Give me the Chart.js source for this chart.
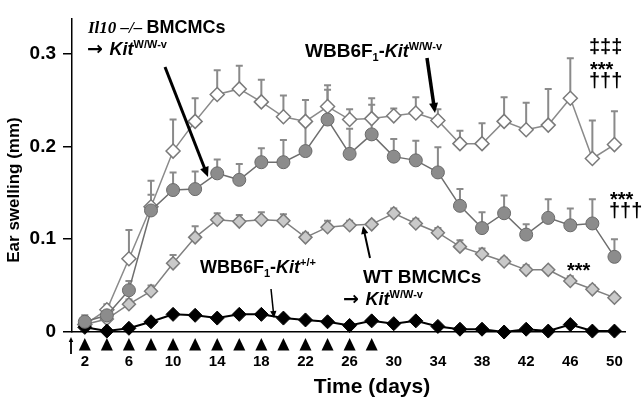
<!DOCTYPE html>
<html>
<head>
<meta charset="utf-8">
<script src="https://cdn.jsdelivr.net/npm/chart.js@4.4.1/dist/chart.umd.min.js"></script>
<style>
  html, body { margin: 0; padding: 0; background: #fff; }
  canvas { display: block; }
</style>
</head>
<body>
<canvas id="c" width="644" height="402"></canvas>
<script>
// jours de mesure (tous les 2 jours)
const days = [2,4,6,8,10,12,14,16,18,20,22,24,26,28,30,32,34,36,38,40,42,44,46,48,50];

// WBB6F1-Kit W/W-v (losanges blancs)
const wvMice = [0.008,0.024,0.079,0.135,0.195,0.227,0.256,0.262,0.248,0.232,0.227,0.243,0.229,0.230,0.233,0.236,0.228,0.203,0.203,0.227,0.218,0.223,0.252,0.187,0.202];
const wvMiceTop = [0.012,0.030,0.110,0.163,0.229,0.252,0.282,0.287,0.272,0.255,0.250,0.266,0.240,0.252,0.241,0.253,0.240,0.217,0.225,0.253,0.247,0.262,0.295,0.228,0.238];

// Il10 -/- BMCMCs -> Kit W/W-v (ronds gris)
const il10Mice = [0.011,0.018,0.045,0.131,0.153,0.154,0.171,0.164,0.183,0.183,0.195,0.229,0.192,0.213,0.189,0.185,0.172,0.136,0.112,0.128,0.105,0.123,0.115,0.117,0.081];
const il10MiceTop = [0.018,0.025,0.055,0.148,0.172,0.173,0.186,0.181,0.198,0.207,0.225,0.261,0.219,0.245,0.208,0.206,0.199,0.154,0.129,0.147,0.116,0.143,0.133,0.143,0.100];

// WT BMCMCs -> Kit W/W-v (losanges gris clair)
const wtMice = [0.008,0.014,0.030,0.044,0.074,0.102,0.121,0.119,0.121,0.120,0.102,0.113,0.115,0.116,0.128,0.117,0.107,0.092,0.084,0.076,0.067,0.067,0.055,0.046,0.037];
const wtMiceTop = [0.011,0.018,0.035,0.050,0.083,0.114,0.128,0.126,0.129,0.127,0.107,0.120,0.120,0.120,0.133,0.122,0.112,0.099,0.090,0.080,0.072,0.070,0.060,0.050,0.041];

// WBB6F1-Kit +/+ (losanges noirs)
const wildMice = [0.005,0.001,0.004,0.011,0.019,0.018,0.015,0.019,0.019,0.015,0.013,0.011,0.007,0.012,0.009,0.012,0.006,0.003,0.003,0.000,0.003,0.001,0.008,0.001,0.001];

// jours des applications (triangles sous l'axe)
const treatDays = [2,4,6,8,10,12,14,16,18,20,22,24,26,28];

const xTicks = [2,6,10,14,18,22,26,30,34,38,42,46,50];
const yTicks = [0,0.1,0.2,0.3];
const yTickLabels = ['0','0.1','0.2','0.3'];

const sans = "Arial, 'Liberation Sans', sans-serif";
const serif = "'Times New Roman', 'Liberation Serif', serif";
const arrowFont = "bold 19px 'DejaVu Sans', sans-serif";

function pts(vals) {
  return vals.map((v, i) => ({x: days[i], y: v}));
}

// barres d'erreur (seulement vers le haut)
const errorBars = {
  id: 'errorBars',
  beforeDatasetsDraw(chart) {
    const {ctx, scales: {x, y}} = chart;
    ctx.save();
    ctx.strokeStyle = '#8a8a8a';
    ctx.lineWidth = 2;
    chart.data.datasets.forEach(ds => {
      if (!ds.errTop) return;
      ds.errTop.forEach((top, i) => {
        const px = x.getPixelForValue(days[i]);
        const y0 = y.getPixelForValue(ds.data[i].y);
        const y1 = y.getPixelForValue(top);
        ctx.beginPath();
        ctx.moveTo(px, y0);
        ctx.lineTo(px, y1);
        ctx.moveTo(px - 3.5, y1);
        ctx.lineTo(px + 3.5, y1);
        ctx.stroke();
      });
    });
    ctx.restore();
  }
};

function arrow(ctx, x0, y0, x1, y1, w, head) {
  const a = Math.atan2(y1 - y0, x1 - x0);
  const c = Math.cos(a), s = Math.sin(a);
  ctx.lineWidth = w;
  ctx.beginPath();
  ctx.moveTo(x0, y0);
  ctx.lineTo(x1 - c * head * 0.8, y1 - s * head * 0.8);
  ctx.stroke();
  ctx.beginPath();
  ctx.moveTo(x1, y1);
  ctx.lineTo(x1 - head * c + head * 0.45 * s, y1 - head * s - head * 0.45 * c);
  ctx.lineTo(x1 - head * c - head * 0.45 * s, y1 - head * s + head * 0.45 * c);
  ctx.closePath();
  ctx.fill();
}

// texte avec morceaux (italique, exposant, indice)
function rich(ctx, x, y, parts) {
  let cx = x;
  parts.forEach(([t, f, dy]) => {
    ctx.font = f;
    ctx.fillText(t, cx, y + (dy || 0));
    cx += ctx.measureText(t).width;
  });
}

const notes = {
  id: 'notes',
  afterDatasetsDraw(chart) {
    const {ctx, scales: {x, y}} = chart;
    ctx.save();
    ctx.fillStyle = '#000';
    ctx.strokeStyle = '#000';
    ctx.textBaseline = 'alphabetic';
    ctx.textAlign = 'left';

    // triangles sous l'axe
    const y0 = y.getPixelForValue(0);
    treatDays.forEach(d => {
      const px = x.getPixelForValue(d);
      ctx.beginPath();
      ctx.moveTo(px, y0 + 6);
      ctx.lineTo(px - 6, y0 + 18.5);
      ctx.lineTo(px + 6, y0 + 18.5);
      ctx.closePath();
      ctx.fill();
    });
    // petite fleche au jour 0
    arrow(ctx, 71, y0 + 22, 71, y0 + 5, 1.8, 5);

    const b18 = 'bold 18px ' + sans;
    const bi18 = 'italic bold 18px ' + sans;
    const sup = 'bold 11px ' + sans;

    // Il10 -/- BMCMCs -> Kit W/W-v
    rich(ctx, 88, 33, [['Il10 \u2013/\u2013 ', 'italic bold 17px ' + serif], ['BMCMCs', b18]]);
    rich(ctx, 87, 55, [['\u2192 ', arrowFont], ['Kit', bi18], ['W/W-v', sup, -7]]);
    arrow(ctx, 165, 67, 208, 177, 3, 10);

    // WBB6F1-Kit W/W-v
    rich(ctx, 305, 57, [['WBB6F', 'bold 19px ' + sans], ['1', 'bold 11px ' + sans, 4], ['-', b18], ['Kit', bi18], ['W/W-v', sup, -7]]);
    arrow(ctx, 427, 58, 435, 113, 3.5, 10);

    // WBB6F1-Kit +/+
    rich(ctx, 200, 273, [['WBB6F', 'bold 18px ' + sans], ['1', 'bold 11px ' + sans, 4], ['-', b18], ['Kit', bi18], ['+/+', sup, -7]]);
    arrow(ctx, 271, 289, 274, 318, 1.5, 7);

    // WT BMCMCs -> Kit W/W-v
    rich(ctx, 363, 283, [['WT BMCMCs', 'bold 19px ' + sans]]);
    rich(ctx, 343, 305, [['\u2192 ', arrowFont], ['Kit', bi18], ['W/W-v', sup, -7]]);
    arrow(ctx, 370, 258, 363, 226, 2, 8);

    // significations
    ctx.font = 'bold 20px ' + sans;
    ctx.fillText('\u2021\u2021\u2021', 589, 53);
    ctx.fillText('***', 590, 76);
    ctx.fillText('\u2020\u2020\u2020', 589, 87);
    ctx.fillText('***', 610, 206);
    ctx.fillText('\u2020\u2020\u2020', 609, 217);
    ctx.fillText('***', 567, 277);

    // titres des axes
    ctx.font = 'bold 21px ' + sans;
    ctx.textAlign = 'center';
    ctx.fillText('Time (days)', 372, 393);
    ctx.save();
    ctx.translate(19, 190);
    ctx.rotate(-Math.PI / 2);
    ctx.font = 'bold 17px ' + sans;
    ctx.fillText('Ear swelling (mm)', 0, 0);
    ctx.restore();

    ctx.restore();
  }
};

Chart.defaults.font.family = sans;

const myChart = new Chart(document.getElementById('c'), {
  type: 'line',
  data: {
    datasets: [
      {
        label: 'Il10 -/- BMCMCs',
        data: pts(il10Mice),
        errTop: il10MiceTop,
        borderColor: '#6e6e6e',
        borderWidth: 1.5,
        pointStyle: 'circle',
        pointRadius: 6.5,
        pointBackgroundColor: '#8c8c8c',
        pointBorderColor: '#6a6a6a',
        pointBorderWidth: 1,
        clip: false
      },
      {
        label: 'WBB6F1-Kit+/+',
        data: pts(wildMice),
        borderColor: '#000',
        borderWidth: 2,
        pointStyle: 'rectRot',
        pointRadius: 7,
        pointBackgroundColor: '#000',
        pointBorderColor: '#000',
        pointBorderWidth: 1,
        clip: false
      },
      {
        label: 'WBB6F1-KitW/W-v',
        data: pts(wvMice),
        errTop: wvMiceTop,
        borderColor: '#8a8a8a',
        borderWidth: 1.5,
        pointStyle: 'rectRot',
        pointRadius: 7,
        pointBackgroundColor: '#fff',
        pointBorderColor: '#7a7a7a',
        pointBorderWidth: 1.5,
        clip: false
      },
      {
        label: 'WT BMCMCs',
        data: pts(wtMice),
        errTop: wtMiceTop,
        borderColor: '#808080',
        borderWidth: 1.5,
        pointStyle: 'rectRot',
        pointRadius: 6.5,
        pointBackgroundColor: '#c9c9c9',
        pointBorderColor: '#7a7a7a',
        pointBorderWidth: 1.5,
        clip: false
      }
    ]
  },
  options: {
    responsive: false,
    animation: false,
    events: [],
    layout: { padding: { left: 0, right: 11, top: 12, bottom: 0 } },
    plugins: { legend: { display: false }, tooltip: { enabled: false } },
    scales: {
      x: {
        type: 'linear',
        min: 0.84,
        max: 51,
        afterBuildTicks: s => { s.ticks = xTicks.map(v => ({ value: v })); },
        afterFit: s => { s.height = 70; },
        grid: { display: false, drawTicks: false },
        border: { display: true, color: '#000', width: 1.5 },
        ticks: {
          padding: 21,
          autoSkip: false,
          maxRotation: 0,
          color: '#000',
          font: { size: 15, weight: 'bold' },
          callback: v => String(v)
        }
      },
      y: {
        min: 0,
        max: 0.338,
        afterBuildTicks: s => { s.ticks = yTicks.map(v => ({ value: v })); },
        afterFit: s => { s.width = 72; },
        grid: { drawOnChartArea: false, drawTicks: true, tickLength: 9, color: '#000', lineWidth: 1.5 },
        border: { display: true, color: '#000', width: 1.5 },
        ticks: {
          padding: 7,
          color: '#000',
          font: { size: 19, weight: 'bold' },
          callback: v => yTickLabels[yTicks.indexOf(v)]
        }
      }
    }
  },
  plugins: [errorBars, notes]
});
</script>
</body>
</html>
